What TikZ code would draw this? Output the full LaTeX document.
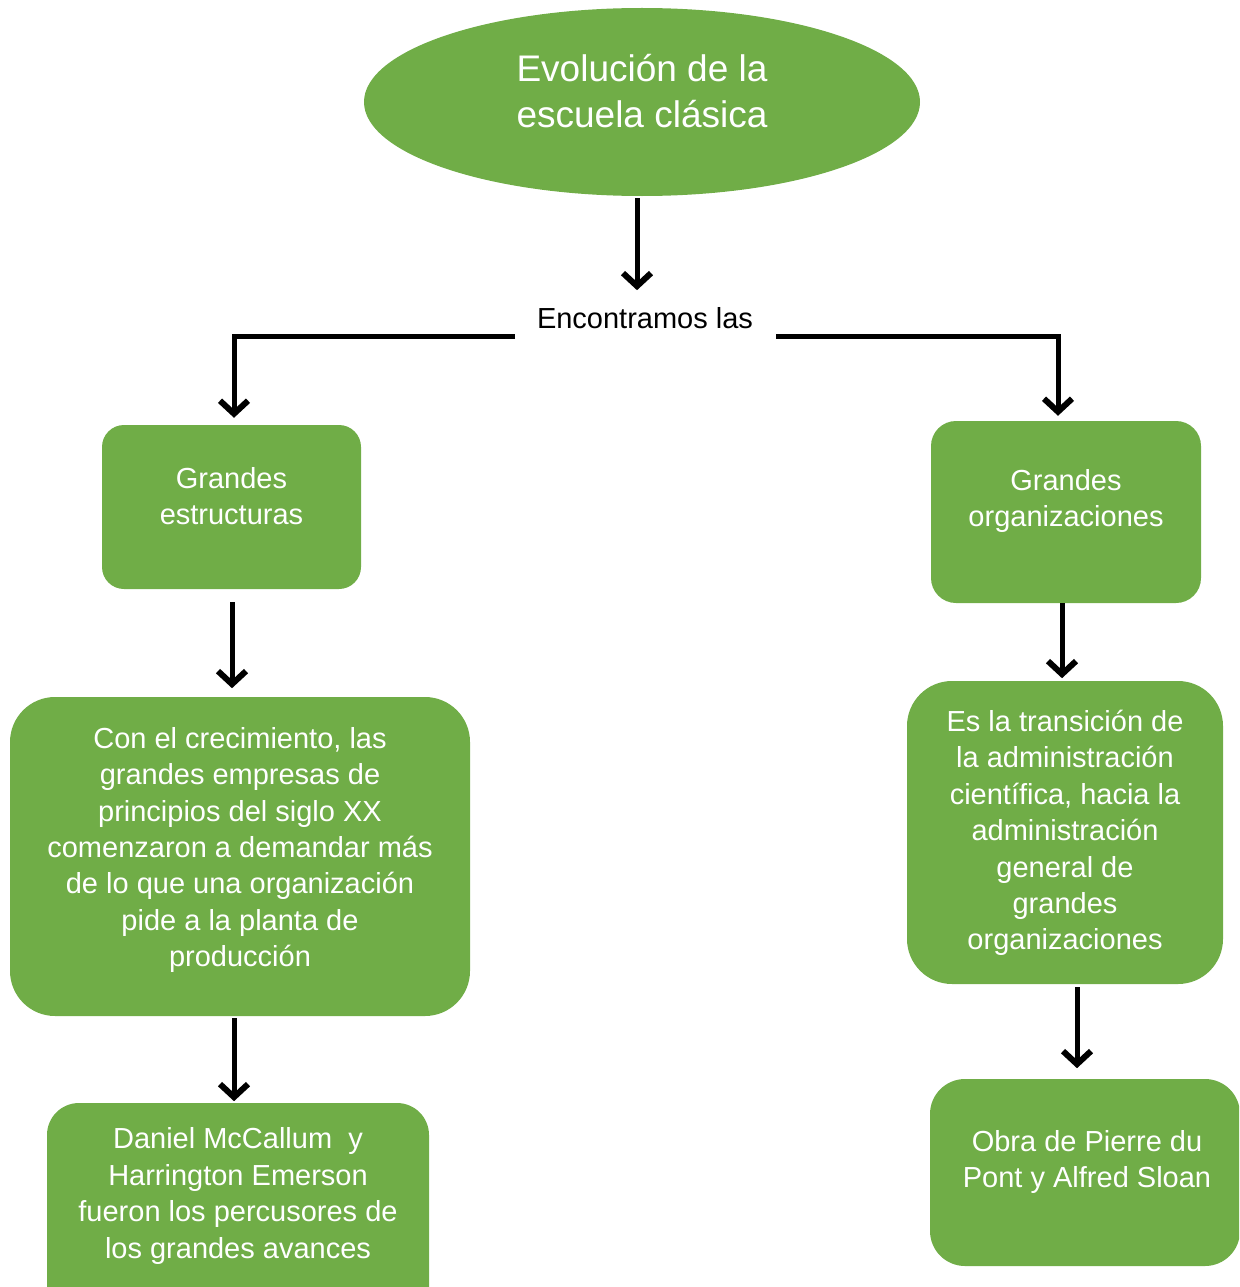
\documentclass[tikz,border=0pt]{standalone}
\usepackage{fontspec}
\setmainfont{Liberation Sans}
\usetikzlibrary{arrows.meta,shapes.geometric,calc}
\definecolor{grn}{HTML}{70AD47}
\tikzset{
  box/.style={fill=grn, draw=none},
  txt/.style={text=white, align=center, font=\fontsize{29}{36.4}\selectfont, inner sep=0pt},
  conn/.style={line width=5pt, -{Straight Barb[length=13pt,width=28pt,line width=6pt]}},
}
\begin{document}
\begin{tikzpicture}[x=1pt,y=-1pt]
\useasboundingbox (0,0) rectangle (1239,1287);
\clip (0,0) rectangle (1239,1287);
% title
\node[ellipse, box, minimum width=556, minimum height=188, inner sep=0pt] (title) at (642,102) {};
\node[txt, font=\fontsize{37}{46}\selectfont] (titletxt) at (642,91) {Evolución de la\\escuela clásica};
% middle text
\node[inner sep=0pt, font=\fontsize{29}{36}\selectfont] (enc) at (645,318) {Encontramos las};
\coordinate (jl) at (515,336);
\coordinate (jr) at (776,336);
% boxes
\path[box, rounded corners=22] (102,425) rectangle (361,589);
\node[minimum width=259, minimum height=164, inner sep=0pt] (b1) at (231.5,507) {};
\node[txt] (b1t) at (231.5,496) {Grandes\\estructuras};

\path[box, rounded corners=25] (931,421) rectangle (1201,603);
\node[minimum width=270, minimum height=182, inner sep=0pt] (b2) at (1066,512) {};
\node[txt] (b2t) at (1066,501) {Grandes\\organizaciones};

\path[box, rounded corners=45] (10,697) rectangle (470,1016);
\node[minimum width=460, minimum height=319, inner sep=0pt] (b3) at (240,856.5) {};
\node[txt] (b3t) at (240,850) {Con el crecimiento, las\\grandes empresas de\\principios del siglo XX\\comenzaron a demandar más\\de lo que una organización\\pide a la planta de\\producción};

\path[box, rounded corners=45] (907,681) rectangle (1223,984);
\node[minimum width=316, minimum height=303, inner sep=0pt] (b4) at (1065,832.5) {};
\node[txt] (b4t) at (1065,833) {Es la transición de\\la administración\\científica, hacia la\\administración\\general de\\grandes\\organizaciones};

\path[box, rounded corners=32] (47,1103) rectangle (429,1320);
\node[minimum width=382, minimum height=217, inner sep=0pt] (b5) at (238,1211.5) {};
\node[txt] (b5t) at (238,1196) {Daniel McCallum\ \ y\\Harrington Emerson\\fueron los percusores de\\los grandes avances};

\path[box, rounded corners=35] (930,1079) rectangle (1240,1266);
\node[minimum width=310, minimum height=187, inner sep=0pt] (b6) at (1085,1172.5) {};
\node[txt] (b6t) at (1087,1162) {Obra de Pierre du\\Pont y Alfred Sloan};

% connectors
\draw[conn] (title.south -| 637,0) ++(0,2) -- ++(0,92);
\draw[conn, shorten >=7pt] (jl) -| ([xshift=2.5]b1.north);
\draw[conn, shorten >=5pt] (jr) -| ([xshift=-8]b2.north);
\draw[conn] ([xshift=0.5]b1.south) ++(0,13) -- ++(0,86);
\draw[conn] ([xshift=-4]b2.south) -- ++(0,75);
\draw[conn] ([xshift=-6]b3.south) ++(0,2) -- ++(0,83);
\draw[conn] ([xshift=12]b4.south) ++(0,3) -- ++(0,81);
\end{tikzpicture}
\end{document}
